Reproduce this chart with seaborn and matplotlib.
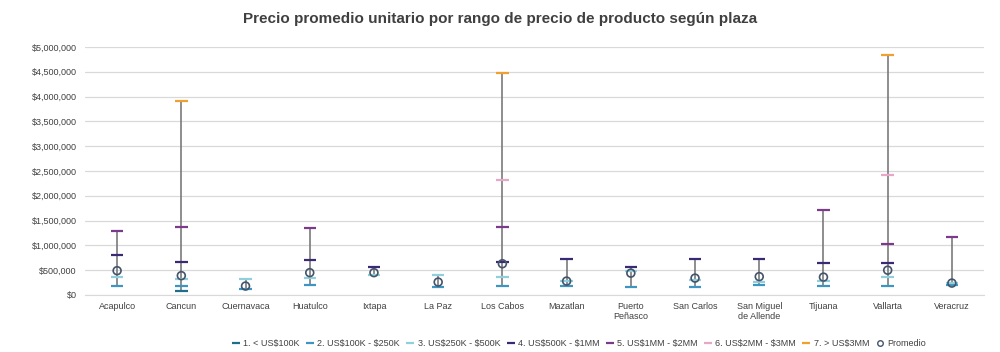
import numpy as np
import pandas as pd
import matplotlib
matplotlib.use('Agg')
import matplotlib.pyplot as plt
import seaborn as sns
from matplotlib.lines import Line2D
from matplotlib.ticker import FuncFormatter

nan = np.nan

# Plazas (orden del eje X)
plazas = ['Acapulco', 'Cancun', 'Cuernavaca', 'Huatulco', 'Ixtapa', 'La Paz',
          'Los Cabos', 'Mazatlan', 'Puerto\nPeñasco', 'San Carlos',
          'San Miguel\nde Allende', 'Tijuana', 'Vallarta', 'Veracruz']

# Precio promedio por rango (USD), NaN = sin producto en ese rango
r1 = [nan, 90000, nan, nan, nan, nan, nan, nan, nan, nan, nan, nan, nan, nan]
r2 = [190000, 180000, 130000, 200000, nan, 170000, 180000, 190000, 160000, 160000, 200000, 180000, 180000, 200000]
r3 = [360000, 320000, 330000, 340000, 400000, 400000, 360000, 290000, 480000, 300000, 260000, 280000, 360000, 240000]
r4 = [810000, 660000, nan, 710000, 560000, nan, 660000, 730000, 570000, 730000, 730000, 650000, 650000, nan]
r5 = [1300000, 1380000, nan, 1350000, nan, nan, 1380000, nan, nan, nan, nan, 1710000, 1020000, 1160000]
r6 = [nan, nan, nan, nan, nan, nan, 2320000, nan, nan, nan, nan, nan, 2410000, nan]
r7 = [nan, 3910000, nan, nan, nan, nan, 4470000, nan, nan, nan, nan, nan, 4830000, nan]
promedio = [490000, 390000, 180000, 450000, 450000, 260000, 630000, 280000, 440000, 340000, 370000, 360000, 500000, 240000]

rangos = ['1. < US$100K', '2. US$100K - $250K', '3. US$250K - $500K', '4. US$500K - $1MM',
          '5. US$1MM - $2MM', '6. US$2MM - $3MM', '7. > US$3MM']
colores = ['#1f6e8c', '#3d95c2', '#8fd0dc', '#3b2a73', '#7b3a8c', '#e8a6c8', '#f0a030']

series = [r1, r2, r3, r4, r5, r6, r7]
rows = []
for rango, vals in zip(rangos, series):
    for i, v in enumerate(vals):
        if not np.isnan(v):
            rows.append({'pos': i, 'precio': v, 'rango': rango})
df = pd.DataFrame(rows)
df_prom = pd.DataFrame({'pos': range(len(plazas)), 'precio': promedio})

sns.set_style('white')
plt.rcParams['font.family'] = ['Liberation Sans', 'DejaVu Sans']

fig = plt.figure(figsize=(10, 3.52), dpi=100)
ax = fig.add_axes([0.085, 0.162, 0.899, 0.7045])

# linea vertical min-max por plaza
rng = df.groupby('pos')['precio'].agg(['min', 'max']).reset_index()
ax.vlines(rng['pos'], rng['min'], rng['max'], color='#7a7a7a', lw=1.2, zorder=2)

sns.scatterplot(data=df, x='pos', y='precio', hue='rango', hue_order=rangos,
                palette=colores, marker='_', s=80, linewidth=1.6, legend=False,
                ax=ax, zorder=3)
sns.scatterplot(data=df_prom, x='pos', y='precio', marker='o', s=32,
                facecolor='none', edgecolor='#44546a', linewidth=1.2,
                legend=False, ax=ax, zorder=4)

ax.set_xlim(-0.5, len(plazas) - 0.5)
ax.set_ylim(0, 5000000)
ax.set_yticks(np.arange(0, 5000001, 500000))
ax.yaxis.set_major_formatter(FuncFormatter(lambda x, p: f'${x:,.0f}'))
ax.set_xticks(range(len(plazas)))
ax.set_xticklabels(plazas)
ax.tick_params(axis='both', length=0, labelsize=6.5, labelcolor='#404040')
ax.tick_params(axis='y', pad=6)
ax.tick_params(axis='x', pad=5)
ax.set_xlabel('')
ax.set_ylabel('')
ax.grid(axis='y', color='#d9d9d9', lw=0.9)
ax.set_axisbelow(True)
for s in ['top', 'right', 'left']:
    ax.spines[s].set_visible(False)
ax.spines['bottom'].set_color('#d9d9d9')

fig.text(0.5, 0.945, 'Precio promedio unitario por rango de precio de producto según plaza',
         ha='center', va='center', fontsize=11, color='#404040', weight='bold')

# escapar $ para que no se interprete como mathtext
handles = [Line2D([0], [0], marker='_', color=c, ls='none', markersize=6, markeredgewidth=1.6,
                  label=r.replace('$', r'\$'))
           for r, c in zip(rangos, colores)]
handles.append(Line2D([0], [0], marker='o', color='#44546a', markerfacecolor='none', ls='none',
                      markersize=4, markeredgewidth=1, label='Promedio'))
fig.legend(handles=handles, loc='center', bbox_to_anchor=(0.579, 0.025), ncol=8, frameon=False,
           fontsize=6.5, handlelength=0.8, handletextpad=0.4, columnspacing=0.75,
           labelcolor='#404040')

fig.savefig('out.png', dpi=100)
